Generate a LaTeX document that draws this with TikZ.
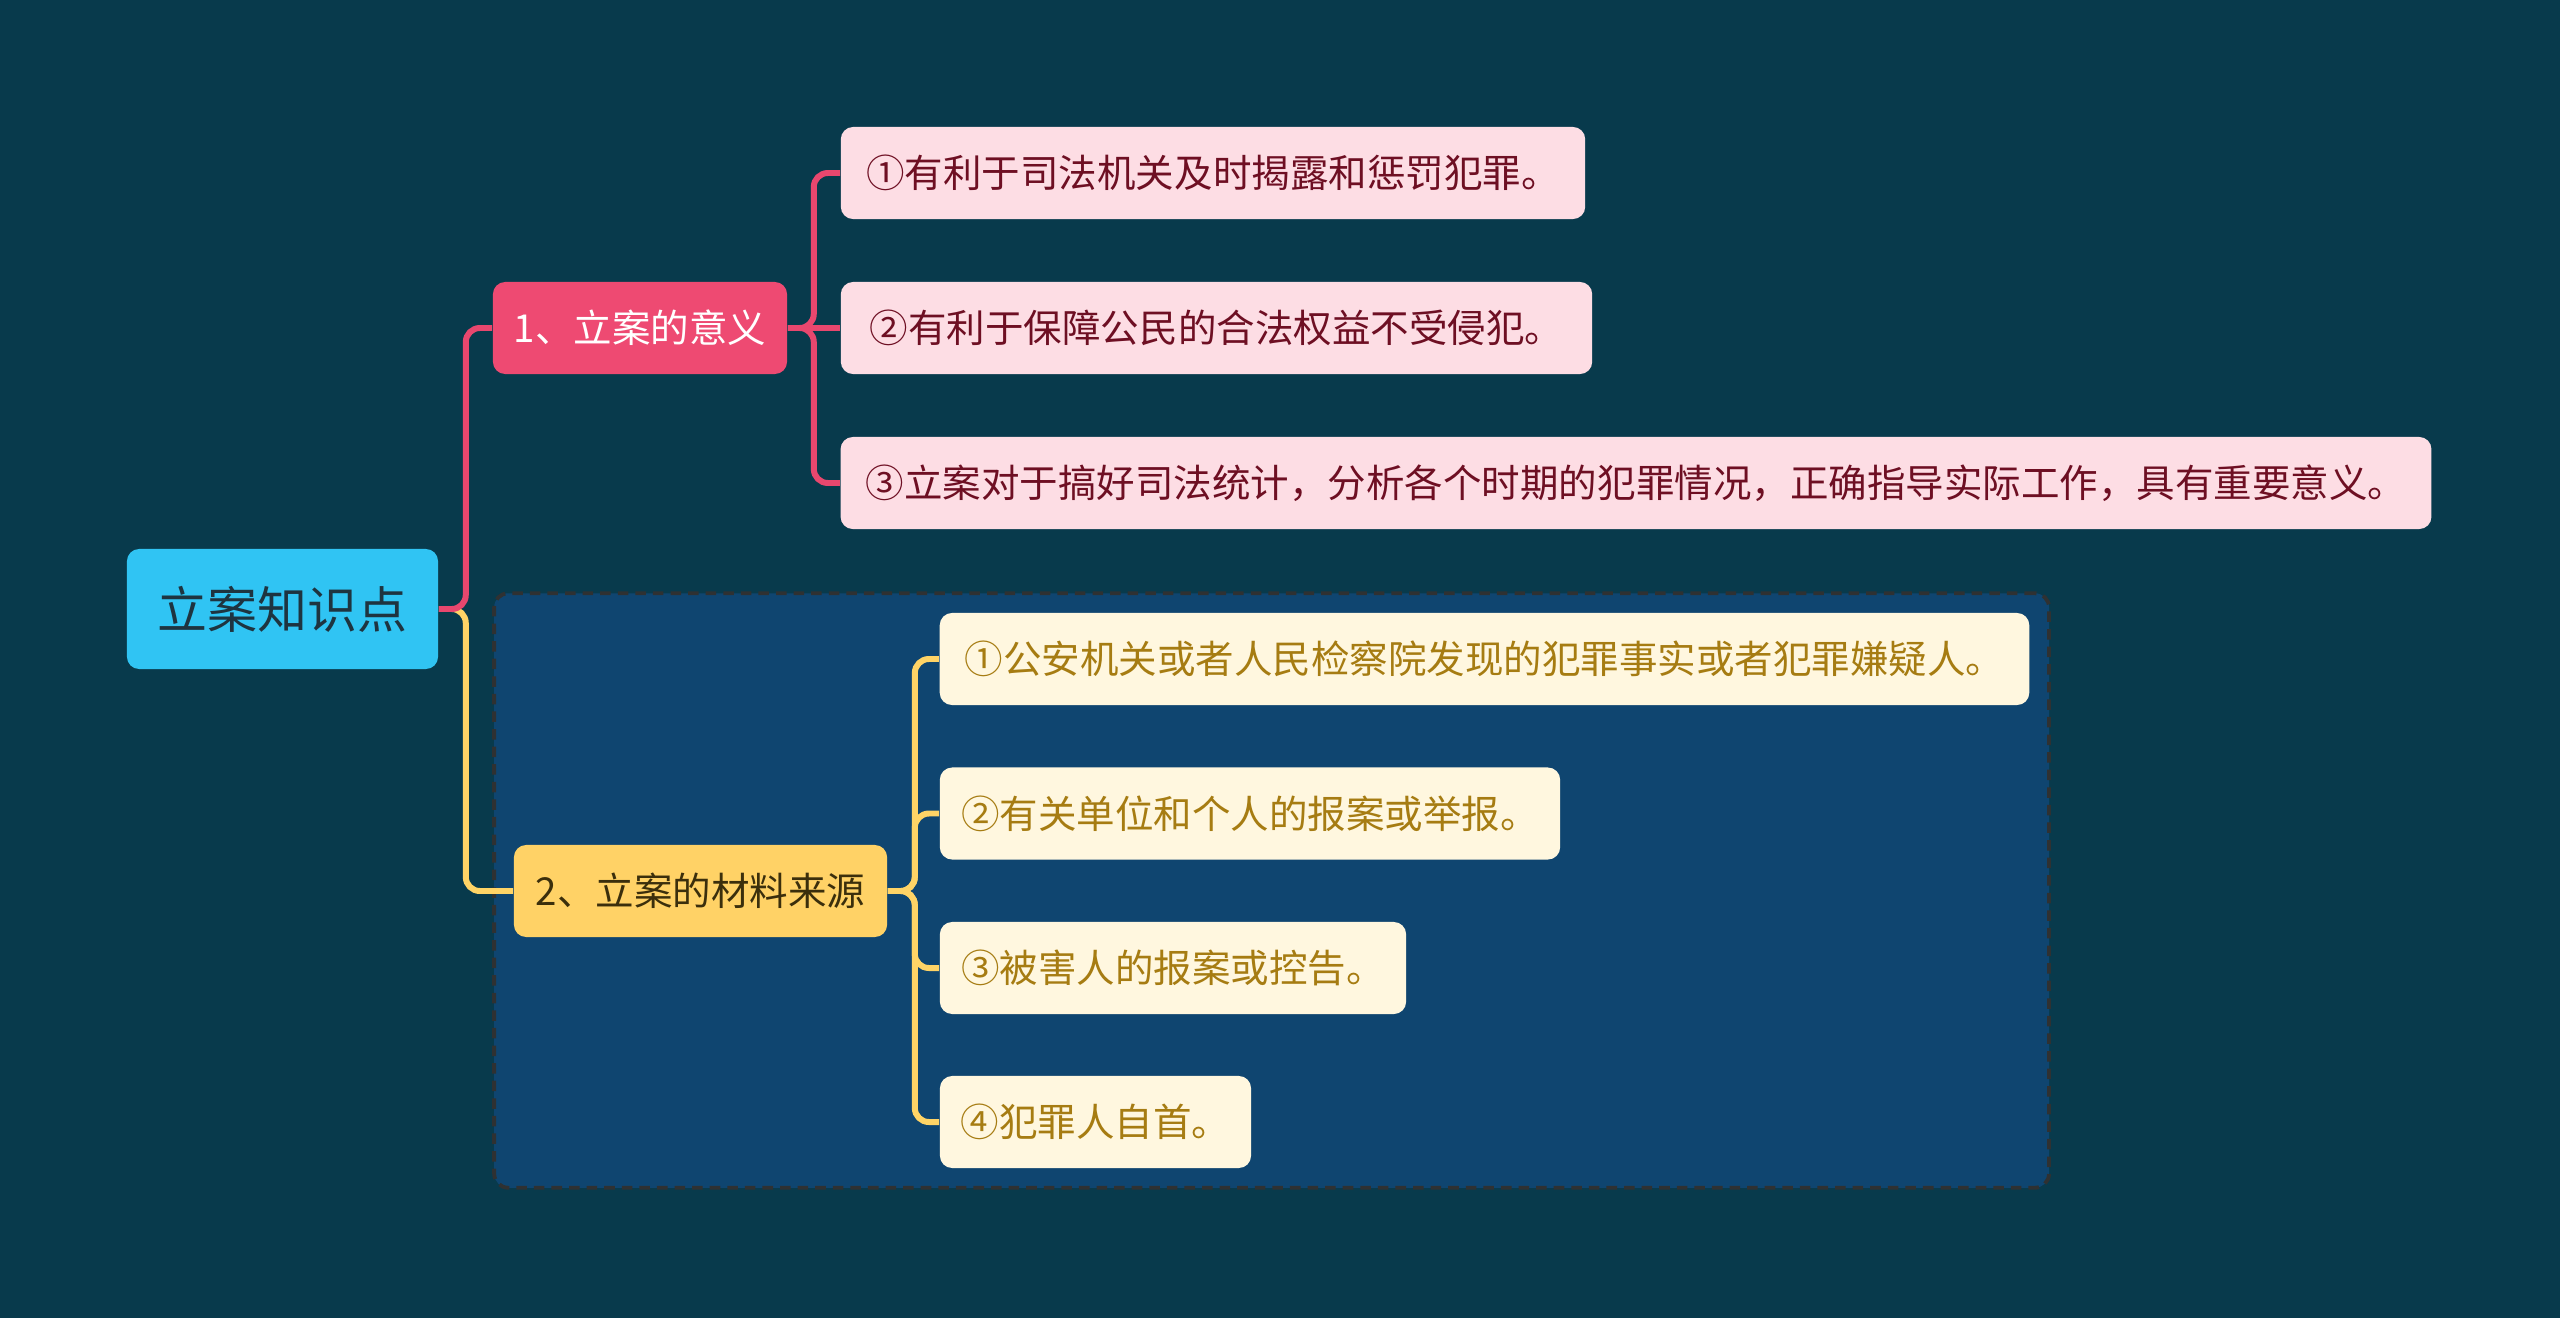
\documentclass[tikz,border=0pt]{standalone}
\usepackage{fontspec}
\setmainfont{Noto Sans CJK SC}
\usetikzlibrary{fit,backgrounds}
\definecolor{bgcol}{HTML}{083A4C}
\definecolor{grpcol}{HTML}{0F4570}
\definecolor{grpline}{HTML}{2F3132}
\definecolor{rootcol}{HTML}{30C4F3}
\definecolor{roottxt}{HTML}{1E3440}
\definecolor{redcol}{HTML}{EE4A72}
\definecolor{redln}{HTML}{E8476E}
\definecolor{pinkcol}{HTML}{FDDDE4}
\definecolor{pinktxt}{HTML}{6E0F23}
\definecolor{yelcol}{HTML}{FFD266}
\definecolor{yelln}{HTML}{FFD466}
\definecolor{yeltxt}{HTML}{3B2F0C}
\definecolor{creamcol}{HTML}{FFF7DF}
\definecolor{goldtxt}{HTML}{A67C12}
\tikzset{
  box/.style={rounded corners=3.5pt, inner sep=0pt, minimum height=0.92cm,
    font=\fontsize{10.95pt}{13pt}\selectfont},
  rootbox/.style={box, fill=rootcol, text=roottxt, minimum height=1.2cm,
    font=\fontsize{14.2pt}{17pt}\selectfont},
  redbox/.style={box, fill=redcol, text=white},
  pinkbox/.style={box, fill=pinkcol, text=pinktxt},
  yelbox/.style={box, fill=yelcol, text=yeltxt},
  creambox/.style={box, fill=creamcol, text=goldtxt},
  redwire/.style={draw=redln, line width=1.7pt, rounded corners=4pt},
  yelwire/.style={draw=yelln, line width=1.7pt, rounded corners=4pt},
  grpbox/.style={fill=grpcol, draw=grpline, line width=1.1pt,
    dash pattern=on 3pt off 2pt, rounded corners=4pt, inner sep=0.19cm}
}
\begin{document}
\begin{tikzpicture}[x=0.01cm, y=-0.01cm]
\useasboundingbox (0,0) rectangle (2560,1318);

\node[rootbox, minimum width=3.11cm] (root) at (282.5,609) {立案知识点};

\node[redbox, minimum width=2.94cm] (sig) at (640,328) {1、立案的意义};
\node[pinkbox, minimum width=7.44cm] (sigA) at (1213,173) {①有利于司法机关及时揭露和惩罚犯罪。};
\node[pinkbox, minimum width=7.51cm] (sigB) at (1216.5,328) {②有利于保障公民的合法权益不受侵犯。};
\node[pinkbox, minimum width=15.9cm] (sigC) at (1636,483) {③立案对于搞好司法统计，分析各个时期的犯罪情况，正确指导实际工作，具有重要意义。};

\node[yelbox, minimum width=3.73cm] (src) at (700.5,891) {2、立案的材料来源};
\node[creambox, minimum width=10.89cm] (srcA) at (1484.5,659) {①公安机关或者人民检察院发现的犯罪事实或者犯罪嫌疑人。};
\node[creambox, minimum width=6.2cm] (srcB) at (1250,813.5) {②有关单位和个人的报案或举报。};
\node[creambox, minimum width=4.66cm] (srcC) at (1173,968) {③被害人的报案或控告。};
\node[creambox, minimum width=3.11cm] (srcD) at (1095.5,1122) {④犯罪人自首。};

\begin{scope}[on background layer]
\fill[bgcol] (0,0) rectangle (2560,1318);
\node[grpbox, fit=(src)(srcA)(srcD)] (grp) {};
\draw[yelwire] (root.east) -- ++(27,0) |- (src.west);
\draw[redwire] (root.east) -- ++(27,0) |- (sig.west);
\draw[redwire] (sig.east) -- ++(26,0) |- (sigA.west);
\draw[redwire] (sig.east) -- (sigB.west);
\draw[redwire] (sig.east) -- ++(26,0) |- (sigC.west);
\foreach \k in {srcA,srcB,srcC,srcD}
  \draw[yelwire] (src.east) -- ++(27,0) |- (\k.west);
\end{scope}
\end{tikzpicture}
\end{document}
